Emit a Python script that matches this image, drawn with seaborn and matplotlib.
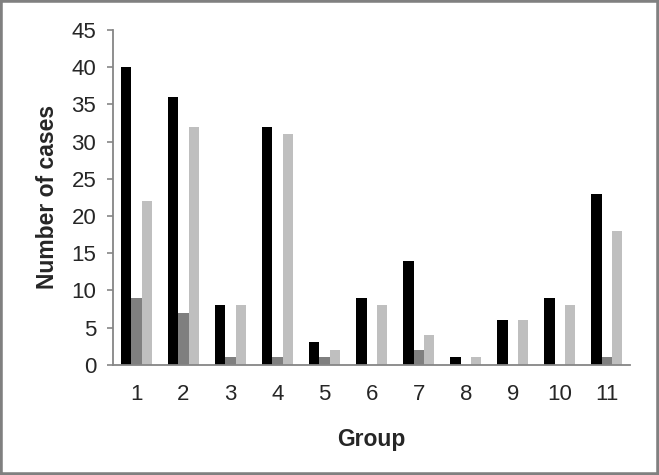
import numpy as np
import pandas as pd
import seaborn as sns
import matplotlib.pyplot as plt
from matplotlib.patches import Rectangle

# data
groups = [str(i) for i in range(1, 12)]
series_a = [40, 36, 8, 32, 3, 9, 14, 1, 6, 9, 23]
series_b = [9, 7, 1, 1, 1, 0, 2, 0, 0, 0, 1]
series_c = [22, 32, 8, 31, 2, 8, 4, 1, 6, 8, 18]
series_names = ["A", "B", "C"]
colors = ["#000000", "#7f7f7f", "#bfbfbf"]

df = pd.DataFrame({
    "Group": groups * 3,
    "Number of cases": series_a + series_b + series_c,
    "Series": [series_names[0]] * 11 + [series_names[1]] * 11 + [series_names[2]] * 11,
})

sns.set_style("white")
plt.rcParams["font.family"] = ["Liberation Sans", "DejaVu Sans"]

fig = plt.figure(figsize=(6.59, 4.75), dpi=100)
ax = fig.add_axes([0.1715, 0.232, 0.785, 0.705])

sns.barplot(data=df, x="Group", y="Number of cases", hue="Series",
            palette=colors, width=0.66, gap=0, saturation=1,
            legend=False, ax=ax, linewidth=0)

ax.set_ylim(0, 45)
ax.set_xlim(-0.5, 10.5)
ax.set_yticks(np.arange(0, 46, 5))

axcol = "#868686"
for s in ["top", "right"]:
    ax.spines[s].set_visible(False)
for s in ["left", "bottom"]:
    ax.spines[s].set_color(axcol)
    ax.spines[s].set_linewidth(1.3)

ax.tick_params(axis="y", direction="out", length=4, width=1.2, color=axcol,
               labelsize=16, pad=8, left=True)
ax.tick_params(axis="x", length=0, labelsize=16, pad=14)

ax.set_xlabel("Group", fontsize=16.5, fontweight="bold")
ax.set_ylabel("Number of cases", fontsize=16.5, fontweight="bold")
ax.xaxis.set_label_coords(0.5, -0.19)
ax.yaxis.set_label_coords(-0.105, 0.5)

# grey frame around the whole picture
fig.patches.append(Rectangle((0, 0), 1, 1, transform=fig.transFigure,
                             fill=False, edgecolor="#808080", linewidth=4))

plt.savefig("out.png", dpi=100)
